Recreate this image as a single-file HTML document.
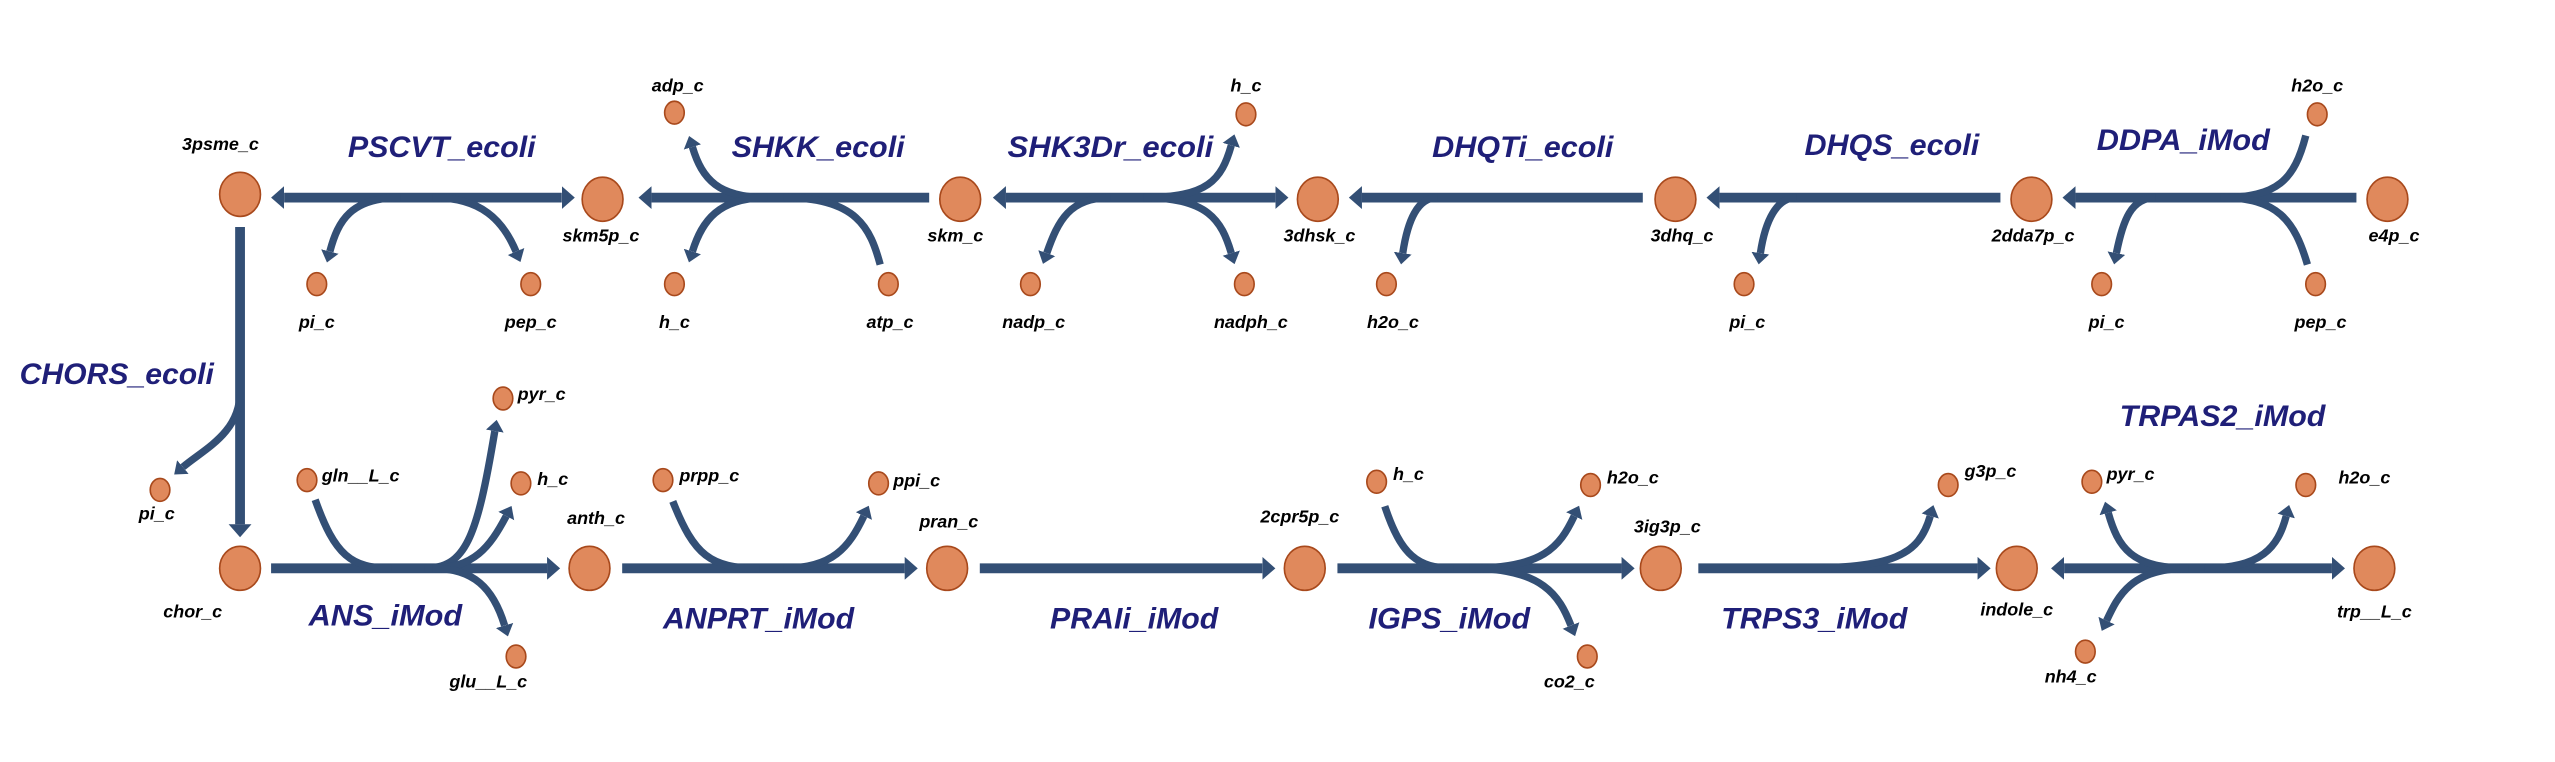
<!DOCTYPE html>
<html><head><meta charset="utf-8"><style>
html,body{margin:0;padding:0;background:#fff;}
svg{display:block;}
.m{font-family:"Liberation Sans Narrow","Liberation Sans",sans-serif;font-weight:bold;font-style:italic;font-size:11px;fill:#000;}
.r{font-family:"Liberation Sans Narrow","Liberation Sans",sans-serif;font-weight:bold;font-style:italic;font-size:18px;fill:#1f1f78;}
.ln{fill:none;stroke:#334f75;stroke-width:6;}
.br{fill:none;stroke:#334f75;stroke-width:4.5;}
.B{fill:#e0895c;stroke:#a8491c;stroke-width:1;}
</style></head><body>
<svg width="2555" height="762" viewBox="0 0 1564.6 466.6" preserveAspectRatio="none" xmlns="http://www.w3.org/2000/svg">
<defs>
<marker id="a" markerUnits="userSpaceOnUse" markerWidth="12" markerHeight="14" refX="0" refY="7" orient="auto-start-reverse" viewBox="0 0 12 14"><path d="M0,0 L8,7 L0,14 z" fill="#334f75"/></marker>
<marker id="b" markerUnits="userSpaceOnUse" markerWidth="10" markerHeight="12" refX="0" refY="5.5" orient="auto" viewBox="0 0 10 11"><path d="M0,0 L7,5.5 L0,11 z" fill="#334f75"/></marker>
</defs>

<!-- top row main lines -->
<path class="ln" d="M344 121 L174 121" marker-start="url(#a)" marker-end="url(#a)"/>
<path class="ln" d="M569 121 L399 121" marker-end="url(#a)"/>
<path class="ln" d="M781 121 L616 121" marker-start="url(#a)" marker-end="url(#a)"/>
<path class="ln" d="M1006 121 L834 121" marker-end="url(#a)"/>
<path class="ln" d="M1225 121 L1053 121" marker-end="url(#a)"/>
<path class="ln" d="M1443 121 L1271 121" marker-end="url(#a)"/>

<!-- top branches -->
<path class="br" d="M245 121 C215 121 207 135 202 154" marker-end="url(#b)"/>
<path class="br" d="M265 121 C295 121 308 135 316 154" marker-end="url(#b)"/>
<path class="br" d="M470 121 C440 121 430 110 424 90" marker-end="url(#b)"/>
<path class="br" d="M470 121 C440 121 430 135 424 154" marker-end="url(#b)"/>
<path class="br" d="M539 162 C533 140 525 121 480 121"/>
<path class="br" d="M700 121 C740 121 748 110 754 89" marker-end="url(#b)"/>
<path class="br" d="M680 121 C655 121 648 135 641 155" marker-end="url(#b)"/>
<path class="br" d="M700 121 C740 121 748 135 754 155" marker-end="url(#b)"/>
<path class="br" d="M880 121 C868 121 862 135 859 155" marker-end="url(#b)"/>
<path class="br" d="M1100 121 C1088 121 1081 135 1078 155" marker-end="url(#b)"/>
<path class="br" d="M1320 121 C1305 121 1300 135 1296 155" marker-end="url(#b)"/>
<path class="br" d="M1412 83 C1405 110 1395 121 1360 121"/>
<path class="br" d="M1413 162 C1405 135 1395 121 1360 121"/>

<!-- CHORS -->
<path class="ln" d="M147 139 L147 321" marker-end="url(#a)"/>
<path class="br" d="M147 240 C147 265 125 275 112 286" marker-end="url(#b)"/>

<!-- bottom main lines -->
<path class="ln" d="M166 348 L335 348" marker-end="url(#a)"/>
<path class="ln" d="M381 348 L554 348" marker-end="url(#a)"/>
<path class="ln" d="M600 348 L773 348" marker-end="url(#a)"/>
<path class="ln" d="M819 348 L993 348" marker-end="url(#a)"/>
<path class="ln" d="M1040 348 L1211 348" marker-end="url(#a)"/>
<path class="ln" d="M1264 348 L1428 348" marker-start="url(#a)" marker-end="url(#a)"/>

<!-- bottom branches -->
<path class="br" d="M193 306 C205 340 215 348 240 348"/>
<path class="br" d="M260 348 C285 348 292 330 303 264" marker-end="url(#b)"/>
<path class="br" d="M265 348 C290 348 300 335 310 316" marker-end="url(#b)"/>
<path class="br" d="M265 348 C290 348 302 360 309 383" marker-end="url(#b)"/>
<path class="br" d="M412 307 C425 340 435 348 465 348"/>
<path class="br" d="M480 348 C510 348 520 335 529 316" marker-end="url(#b)"/>
<path class="br" d="M848 310 C858 340 868 348 890 348"/>
<path class="br" d="M900 348 C945 348 955 335 964 316" marker-end="url(#b)"/>
<path class="br" d="M900 348 C945 348 955 365 962 383" marker-end="url(#b)"/>
<path class="br" d="M1100 348 C1160 348 1175 340 1182 316" marker-end="url(#b)"/>
<path class="br" d="M1340 348 C1305 348 1297 335 1291 314" marker-end="url(#b)"/>
<path class="br" d="M1350 348 C1385 348 1395 335 1400 316" marker-end="url(#b)"/>
<path class="br" d="M1340 348 C1305 348 1297 365 1290 380" marker-end="url(#b)"/>

<!-- big nodes -->
<g class="B">
<ellipse cx="147" cy="119" rx="12.5" ry="13.5"/>
<ellipse cx="369" cy="122" rx="12.5" ry="13.5"/>
<ellipse cx="588" cy="122" rx="12.5" ry="13.5"/>
<ellipse cx="807" cy="122" rx="12.5" ry="13.5"/>
<ellipse cx="1026" cy="122" rx="12.5" ry="13.5"/>
<ellipse cx="1244" cy="122" rx="12.5" ry="13.5"/>
<ellipse cx="1462" cy="122" rx="12.5" ry="13.5"/>
<ellipse cx="147" cy="348" rx="12.5" ry="13.5"/>
<ellipse cx="361" cy="348" rx="12.5" ry="13.5"/>
<ellipse cx="580" cy="348" rx="12.5" ry="13.5"/>
<ellipse cx="799" cy="348" rx="12.5" ry="13.5"/>
<ellipse cx="1017" cy="348" rx="12.5" ry="13.5"/>
<ellipse cx="1235" cy="348" rx="12.5" ry="13.5"/>
<ellipse cx="1454" cy="348" rx="12.5" ry="13.5"/>
</g>
<!-- small nodes -->
<g class="B">
<ellipse cx="194" cy="174" rx="6" ry="7"/>
<ellipse cx="325" cy="174" rx="6" ry="7"/>
<ellipse cx="413" cy="69" rx="6" ry="7"/>
<ellipse cx="413" cy="174" rx="6" ry="7"/>
<ellipse cx="544" cy="174" rx="6" ry="7"/>
<ellipse cx="763" cy="70" rx="6" ry="7"/>
<ellipse cx="631" cy="174" rx="6" ry="7"/>
<ellipse cx="762" cy="174" rx="6" ry="7"/>
<ellipse cx="849" cy="174" rx="6" ry="7"/>
<ellipse cx="1068" cy="174" rx="6" ry="7"/>
<ellipse cx="1287" cy="174" rx="6" ry="7"/>
<ellipse cx="1419" cy="70" rx="6" ry="7"/>
<ellipse cx="1418" cy="174" rx="6" ry="7"/>
<ellipse cx="98" cy="300" rx="6" ry="7"/>
<ellipse cx="188" cy="294" rx="6" ry="7"/>
<ellipse cx="308" cy="244" rx="6" ry="7"/>
<ellipse cx="319" cy="296" rx="6" ry="7"/>
<ellipse cx="316" cy="402" rx="6" ry="7"/>
<ellipse cx="406" cy="294" rx="6" ry="7"/>
<ellipse cx="538" cy="296" rx="6" ry="7"/>
<ellipse cx="843" cy="295" rx="6" ry="7"/>
<ellipse cx="974" cy="297" rx="6" ry="7"/>
<ellipse cx="972" cy="402" rx="6" ry="7"/>
<ellipse cx="1193" cy="297" rx="6" ry="7"/>
<ellipse cx="1281" cy="295" rx="6" ry="7"/>
<ellipse cx="1412" cy="297" rx="6" ry="7"/>
<ellipse cx="1277" cy="399" rx="6" ry="7"/>
</g>

<!-- metabolite labels -->
<g class="m" text-anchor="middle">
<text x="135" y="92">3psme_c</text>
<text x="194" y="201">pi_c</text>
<text x="325" y="201">pep_c</text>
<text x="368" y="148">skm5p_c</text>
<text x="415" y="56">adp_c</text>
<text x="413" y="201">h_c</text>
<text x="545" y="201">atp_c</text>
<text x="585" y="148">skm_c</text>
<text x="633" y="201">nadp_c</text>
<text x="766" y="201">nadph_c</text>
<text x="763" y="56">h_c</text>
<text x="808" y="148">3dhsk_c</text>
<text x="853" y="201">h2o_c</text>
<text x="1030" y="148">3dhq_c</text>
<text x="1070" y="201">pi_c</text>
<text x="1245" y="148">2dda7p_c</text>
<text x="1290" y="201">pi_c</text>
<text x="1421" y="201">pep_c</text>
<text x="1419" y="56">h2o_c</text>
<text x="1466" y="148">e4p_c</text>
<text x="96" y="318">pi_c</text>
<text x="118" y="378">chor_c</text>
<text x="299" y="421">glu__L_c</text>
<text x="365" y="321">anth_c</text>
<text x="581" y="323">pran_c</text>
<text x="796" y="320">2cpr5p_c</text>
<text x="1021" y="326">3ig3p_c</text>
<text x="961" y="421">co2_c</text>
<text x="1235" y="377">indole_c</text>
<text x="1268" y="418">nh4_c</text>
<text x="1454" y="378">trp__L_c</text>
</g>
<g class="m">
<text x="197" y="295">gln__L_c</text>
<text x="317" y="245">pyr_c</text>
<text x="329" y="297">h_c</text>
<text x="416" y="295">prpp_c</text>
<text x="547" y="298">ppi_c</text>
<text x="853" y="294">h_c</text>
<text x="984" y="296">h2o_c</text>
<text x="1203" y="292">g3p_c</text>
<text x="1290" y="294">pyr_c</text>
<text x="1432" y="296">h2o_c</text>
</g>

<!-- reaction labels -->
<g class="r">
<text x="213" y="96" textLength="115" lengthAdjust="spacingAndGlyphs">PSCVT_ecoli</text>
<text x="448" y="96" textLength="106" lengthAdjust="spacingAndGlyphs">SHKK_ecoli</text>
<text x="617" y="96" textLength="126" lengthAdjust="spacingAndGlyphs">SHK3Dr_ecoli</text>
<text x="877" y="96" textLength="111" lengthAdjust="spacingAndGlyphs">DHQTi_ecoli</text>
<text x="1105" y="95" textLength="107" lengthAdjust="spacingAndGlyphs">DHQS_ecoli</text>
<text x="1284" y="92" textLength="106" lengthAdjust="spacingAndGlyphs">DDPA_iMod</text>
<text x="12" y="235" textLength="119" lengthAdjust="spacingAndGlyphs">CHORS_ecoli</text>
<text x="189" y="383" textLength="94" lengthAdjust="spacingAndGlyphs">ANS_iMod</text>
<text x="406" y="385" textLength="117" lengthAdjust="spacingAndGlyphs">ANPRT_iMod</text>
<text x="643" y="385" textLength="103" lengthAdjust="spacingAndGlyphs">PRAIi_iMod</text>
<text x="838" y="385" textLength="99" lengthAdjust="spacingAndGlyphs">IGPS_iMod</text>
<text x="1054" y="385" textLength="114" lengthAdjust="spacingAndGlyphs">TRPS3_iMod</text>
<text x="1298" y="261" textLength="126" lengthAdjust="spacingAndGlyphs">TRPAS2_iMod</text>
</g>
</svg>
</body></html>
